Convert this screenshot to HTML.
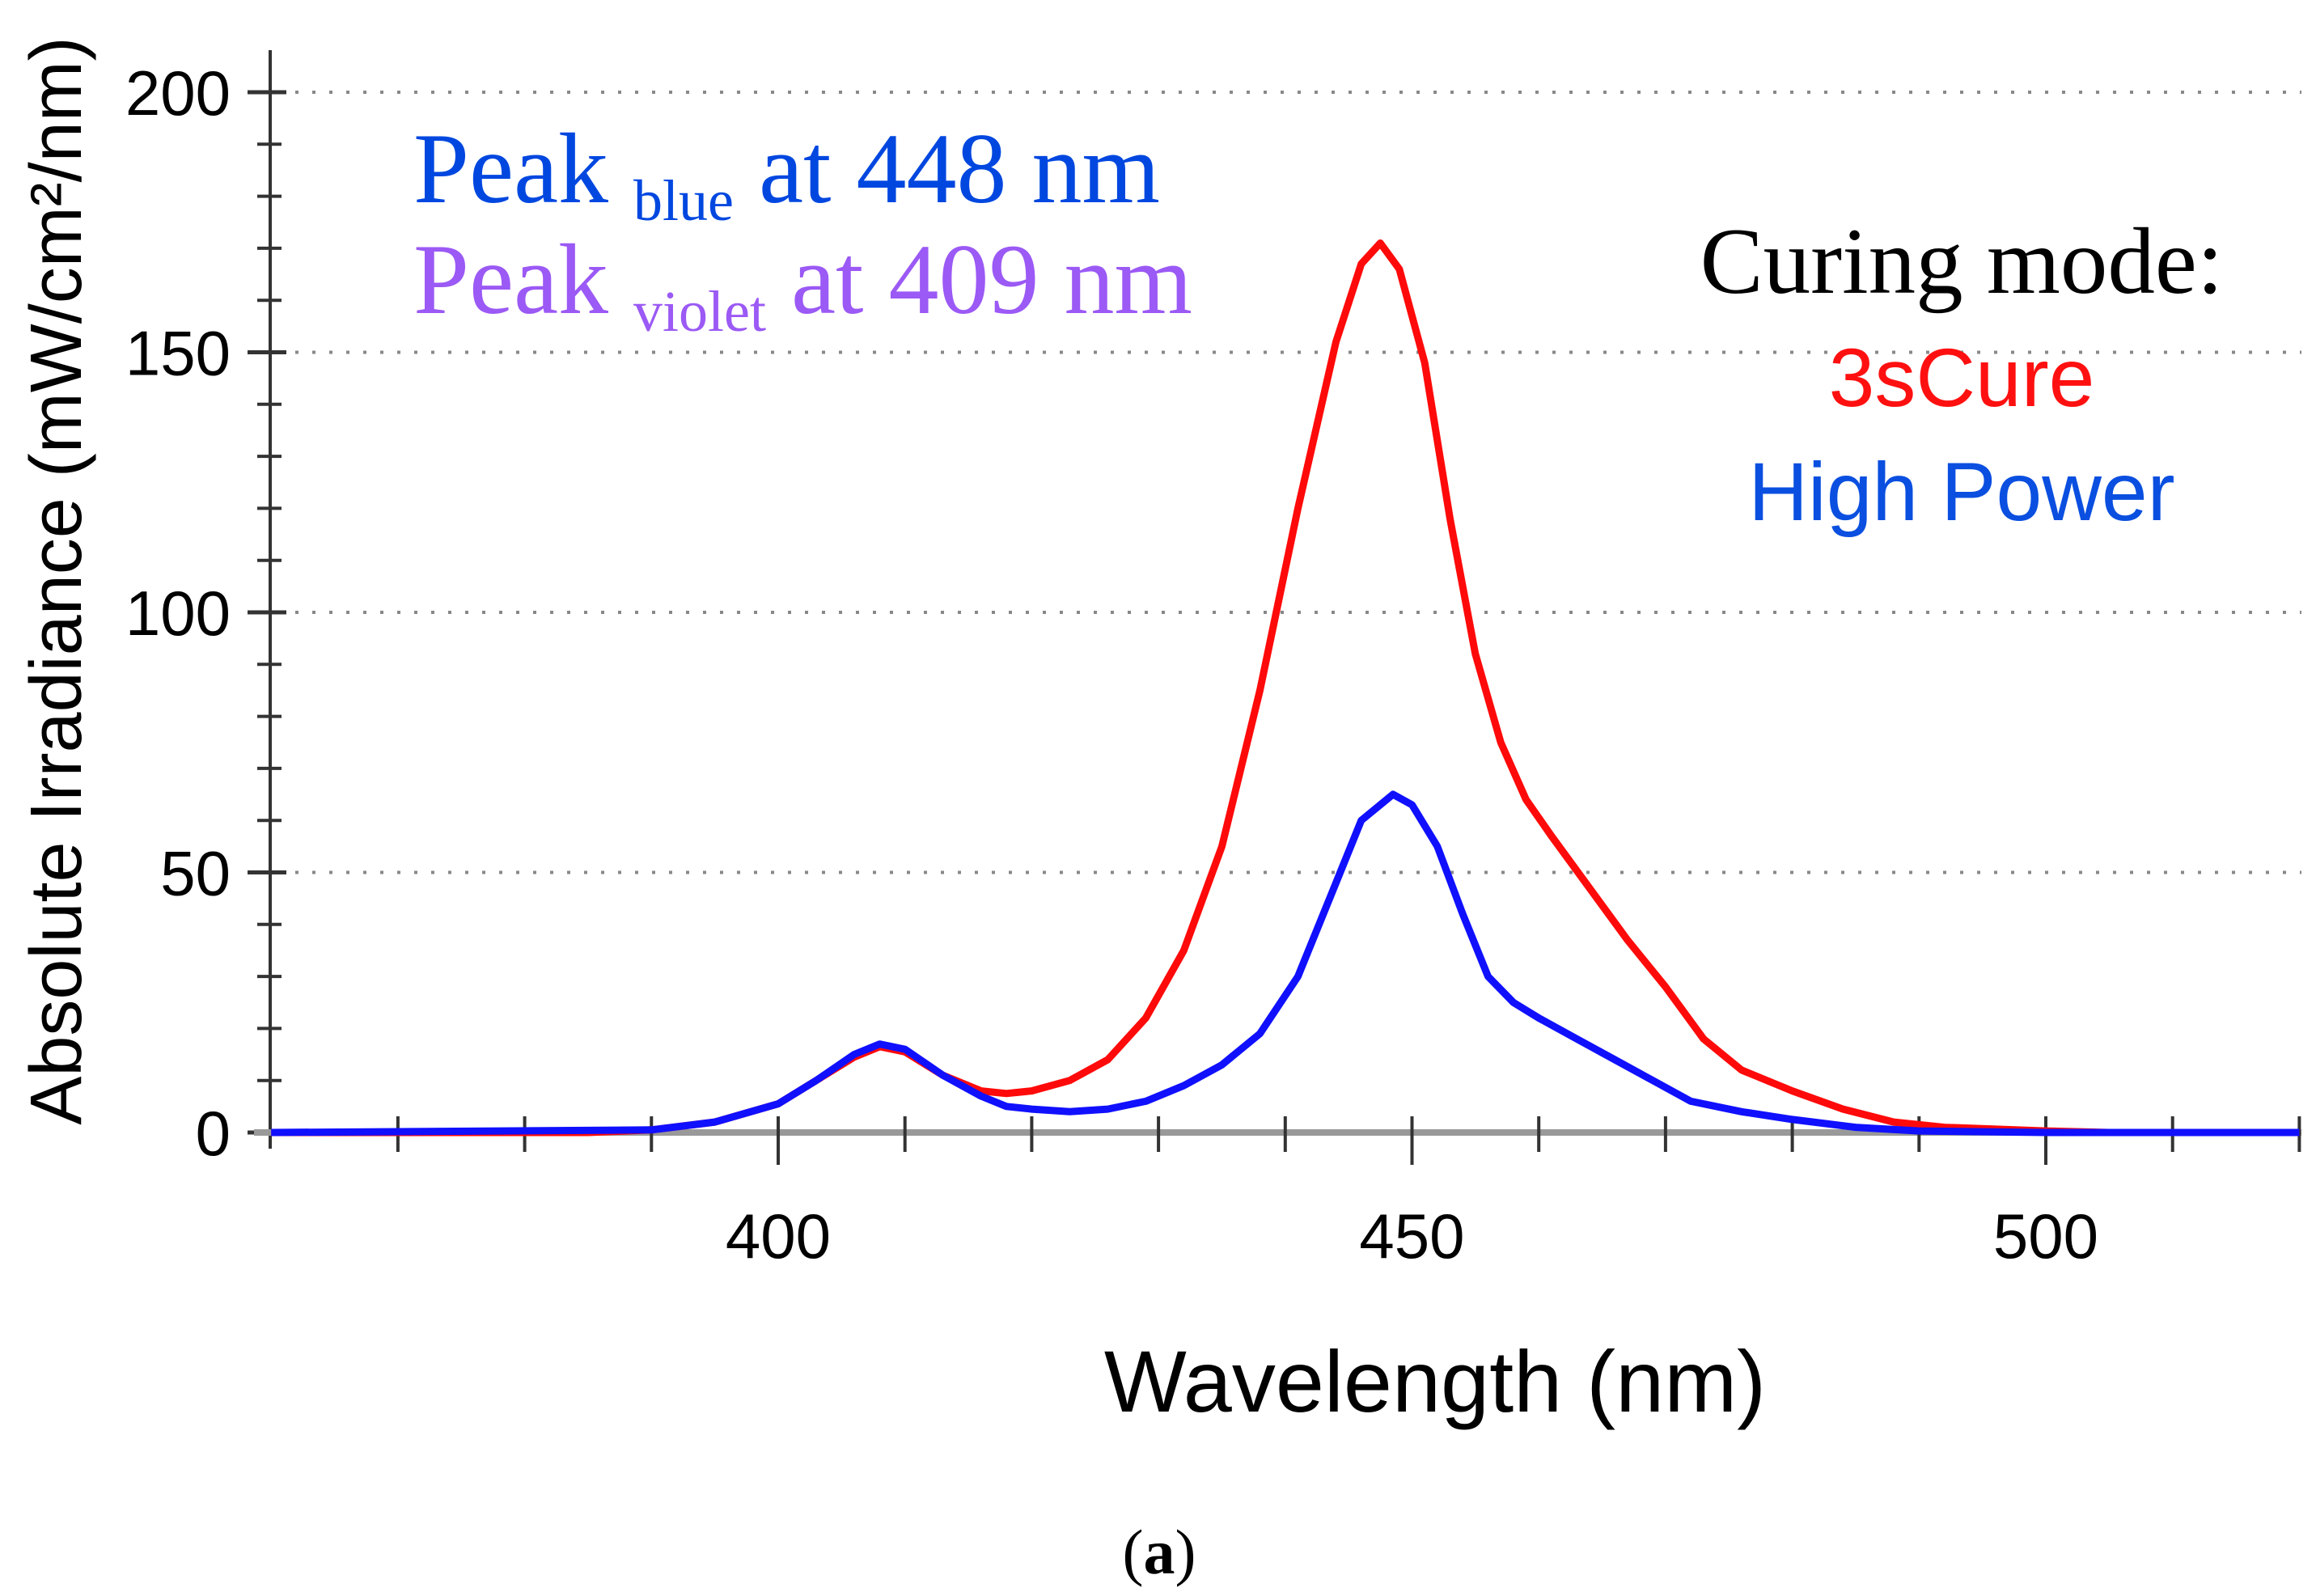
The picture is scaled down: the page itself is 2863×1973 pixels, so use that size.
<!DOCTYPE html>
<html><head><meta charset="utf-8"><style>
html,body{margin:0;padding:0;background:#fff;}
svg{display:block;}
</style></head><body>
<svg id="chart" width="2863" height="1973" xmlns="http://www.w3.org/2000/svg">
  <g id="grid"></g>
  <g id="axes"></g>
  <g id="series"></g>
  <text x="511" y="250" font-family="Liberation Serif, serif" font-size="124" fill="#0047e0">Peak <tspan font-size="72" dy="22">blue</tspan><tspan dy="-22"> at 448 nm</tspan></text>
  <text x="511" y="387" font-family="Liberation Serif, serif" font-size="124" fill="#9b59f5">Peak <tspan font-size="72" dy="22">violet</tspan><tspan dy="-22"> at 409 nm</tspan></text>
  <text x="2425" y="362" text-anchor="middle" font-family="Liberation Serif, serif" font-size="117" fill="#000">Curing mode:</text>
  <text x="2425" y="502" text-anchor="middle" font-family="Liberation Sans, sans-serif" font-size="102" fill="#ff1010">3sCure</text>
  <text x="2425" y="643" text-anchor="middle" font-family="Liberation Sans, sans-serif" font-size="102" fill="#0a4fe0">High Power</text>
  <text x="1774" y="1745" text-anchor="middle" font-family="Liberation Sans, sans-serif" font-size="108" fill="#000">Wavelength (nm)</text>
  <text transform="translate(100,718) rotate(-90)" text-anchor="middle" font-family="Liberation Sans, sans-serif" font-size="90" fill="#000">Absolute Irradiance (mW/cm²/nm)</text>
  <text x="1433" y="1945" text-anchor="middle" font-family="Liberation Serif, serif" font-size="78" fill="#000">(<tspan font-weight="bold">a</tspan>)</text>
</svg>
<script>
const xTicks = [400, 450, 500];
const yTicks = [0, 50, 100, 150, 200];
const wlRed = [360,385,390,395,400,403,406,408,410,413,416,418,420,423,426,429,432,435,438,441,444,446,447.5,449,451,453,455,457,459,461,464,467,470,473,476,480,484,488,492,500,505,520];
const redVals = [0,0,0.5,2,5.5,10,14.5,16.5,15.5,11,8,7.5,8,10,14,22,35,55,85,120,152,167,171,166,148,118,92,75,64,57,47,37,28,18,12,8,4.5,2,1,0.3,0,0];
const wlBlue = [360,390,395,400,403,406,408,410,413,416,418,420,423,426,429,432,435,438,441,444,446,448.5,450,452,454,456,458,460,463,466,469,472,476,480,485,490,500,520];
const blueVals = [0,0.5,2,5.5,10,15,17,16,11,7,5,4.5,4,4.5,6,9,13,19,30,48,60,65,63,55,42,30,25,22,18,14,10,6,4,2.5,1,0.3,0,0];

const NS = 'http://www.w3.org/2000/svg';
const X0 = 334, X1 = 2845;
const xs = v => 962 + (v - 400) * (2529 - 962) / 100;
const ys = v => 1400 - v * (1400 - 114) / 200;
function mk(tag, attrs, parent) {
  const e = document.createElementNS(NS, tag);
  for (const k in attrs) e.setAttribute(k, attrs[k]);
  parent.appendChild(e);
  return e;
}
const grid = document.getElementById('grid');
const axes = document.getElementById('axes');
const series = document.getElementById('series');

yTicks.forEach(t => {
  if (t > 0) {
    const g = mk('line', {x1: X0 + 10, x2: X1, y1: ys(t), y2: ys(t), stroke: '#888', 'stroke-width': 4, 'stroke-dasharray': '4 17'}, grid);
    
    
  }
  const tk = mk('line', {x1: X0 - 28, x2: X0 + 20, y1: ys(t), y2: ys(t), stroke: '#333', 'stroke-width': 5}, axes);
  
  
  const lb = mk('text', {x: 285, y: ys(t) + 28, 'text-anchor': 'end', 'font-family': 'Liberation Sans, sans-serif', 'font-size': 78, fill: '#000'}, axes);
  lb.textContent = t;
  
  
});
for (let v = 10; v < 200; v += 10) {
  if (v % 50 === 0) continue;
  const m = mk('line', {x1: X0 - 16, x2: X0 + 14, y1: ys(v), y2: ys(v), stroke: '#333', 'stroke-width': 4}, axes);
  
  
}
const ya = mk('line', {x1: X0, x2: X0, y1: 62, y2: 1420, stroke: '#333', 'stroke-width': 4}, axes);


const xa = mk('line', {x1: X0 - 20, x2: X1, y1: 1400, y2: 1400, stroke: '#999', 'stroke-width': 8}, axes);


for (let v = 370; v <= 520; v += 10) {
  const major = xTicks.includes(v);
  const m = mk('line', {x1: xs(v), x2: xs(v), y1: 1380, y2: major ? 1440 : 1424, stroke: '#333', 'stroke-width': 4}, axes);
  
  
}
xTicks.forEach(t => {
  const lb = mk('text', {x: xs(t), y: 1555, 'text-anchor': 'middle', 'font-family': 'Liberation Sans, sans-serif', 'font-size': 78, fill: '#000'}, axes);
  lb.textContent = t;
  
  
});

function drawLine(wl, vals, color, name) {
  const pts = wl.map((w, i) => xs(w).toFixed(1) + ',' + ys(vals[i]).toFixed(1)).join(' ');
  const p = mk('polyline', {points: pts, fill: 'none', stroke: color, 'stroke-width': 9, 'stroke-linejoin': 'round'}, series);
  
  
}
drawLine(wlRed, redVals, '#ff0a0a', 'series-3scure');
drawLine(wlBlue, blueVals, '#1010ff', 'series-high-power');
</script>
</body></html>
